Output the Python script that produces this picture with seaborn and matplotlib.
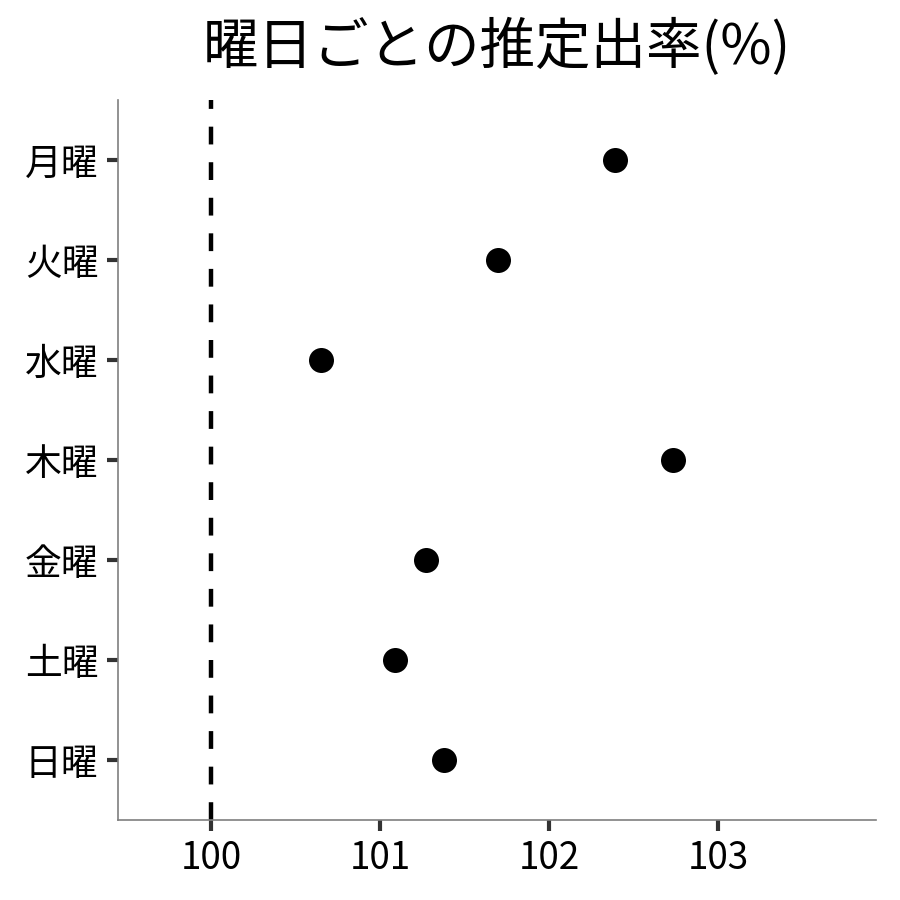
import matplotlib
matplotlib.use('Agg')
import pandas as pd
import matplotlib.pyplot as plt
import seaborn as sns

# values
days = ['月曜', '火曜', '水曜', '木曜', '金曜', '土曜', '日曜']
rates = [102.39, 101.70, 100.65, 102.73, 101.27, 101.09, 101.38]
x_ticks = [100, 101, 102, 103]
baseline = 100

df = pd.DataFrame({'day': days, 'rate': rates})

sns.set_style('white')
plt.rcParams['font.family'] = ['Noto Sans CJK JP', 'DejaVu Sans']

fig, ax = plt.subplots(figsize=(9, 9), dpi=100)
fig.subplots_adjust(left=0.131, right=0.973, top=0.889, bottom=0.089)

ax.axvline(baseline, color='black', lw=3.2, dashes=(4.0, 4.0), zorder=1)
sns.stripplot(data=df, x='rate', y='day', order=days, jitter=False,
              color='black', size=18, ax=ax, zorder=3)

ax.set_xlim(99.45, 103.93)
ax.set_ylim(6.6, -0.6)
ax.set_xticks(x_ticks)
ax.set_xlabel('')
ax.set_ylabel('')
ax.set_title('曜日ごとの推定出率(%)', fontsize=40, pad=26, color='black')

sns.despine(ax=ax)
for side in ['left', 'bottom']:
    ax.spines[side].set_color('#7f7f7f')
    ax.spines[side].set_linewidth(1.2)
ax.tick_params(axis='both', length=8, width=3, color='#333333',
               labelsize=26.5, labelcolor='black', pad=6, bottom=True, left=True)

plt.savefig('out.png', dpi=100)
